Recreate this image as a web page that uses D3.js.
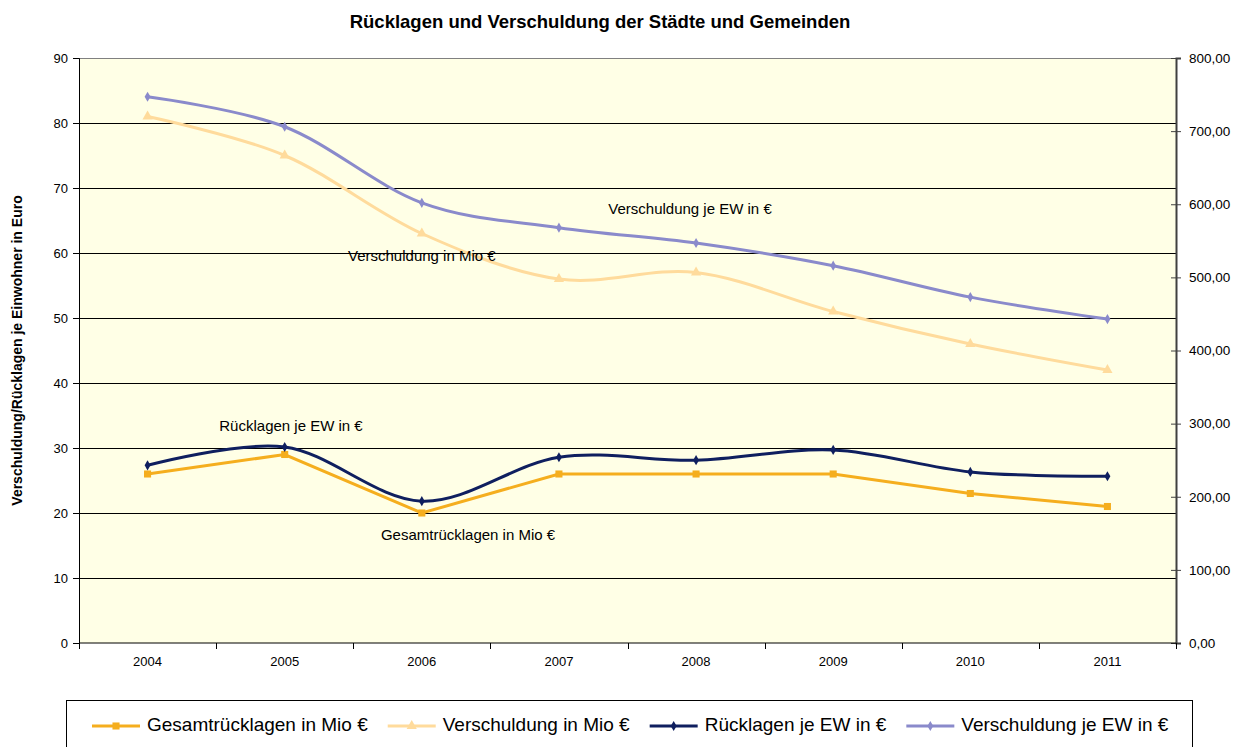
<!DOCTYPE html>
<html>
<head>
<meta charset="utf-8">
<script src="https://cdn.jsdelivr.net/npm/d3@7"></script>
<style>
	body { margin: 0; background: #fff; }
	text { font-family: "Liberation Sans", Arial, sans-serif; fill: #000; }
</style>
</head>
<body>
<svg id="chart"></svg>
<script>
const years = ["2004", "2005", "2006", "2007", "2008", "2009", "2010", "2011"];
const gesamtRuecklagen = [26, 29, 20, 26, 26, 26, 23, 21];
const verschuldungMio = [81, 75, 63, 56, 57, 51, 46, 42];
const ruecklagenEW = [243, 268, 194, 254, 250, 264, 234, 228];
const verschuldungEW = [747, 706, 602, 568, 547, 516, 473, 443];
const leftTicks = [0, 10, 20, 30, 40, 50, 60, 70, 80, 90];
const rightTicks = [0, 100, 200, 300, 400, 500, 600, 700, 800];

const width = 1235, height = 747;
const margin = { top: 58, right: 59, bottom: 104, left: 79 };
const plotW = width - margin.left - margin.right;
const plotH = height - margin.top - margin.bottom;

const svg = d3.select("#chart").attr("width", width).attr("height", height);

const x = d3.scaleBand().domain(years).range([0, plotW]);
const xc = i => x.step() * (i + 0.5);
const yL = d3.scaleLinear().domain([0, 90]).range([plotH, 0]);
const yR = d3.scaleLinear().domain([0, 800]).range([plotH, 0]);

const g = svg.append("g").attr("transform", `translate(${margin.left}, ${margin.top})`);

g.append("rect")
	.attr("width", plotW)
	.attr("height", plotH)
	.attr("fill", "#FFFFE6");

// gridlines
g.selectAll(".grid")
	.data(leftTicks.filter(d => d > 0 && d < 90))
	.enter()
	.append("line")
	.attr("x1", 0)
	.attr("x2", plotW)
	.attr("y1", d => Math.round(yL(d)) + 0.5)
	.attr("y2", d => Math.round(yL(d)) + 0.5)
	.attr("stroke", "#000")
	.attr("stroke-width", 1);

g.append("line")
	.attr("x1", 0).attr("x2", plotW)
	.attr("y1", 0.5).attr("y2", 0.5)
	.attr("stroke", "#808080");

// left axis
const leftAxis = g.append("g")
	.call(d3.axisLeft(yL).tickValues(leftTicks).tickSize(6).tickPadding(5));
leftAxis.select(".domain").attr("stroke", "#000");
leftAxis.selectAll("text").style("font-size", "13px").attr("fill", "#000");

// right axis
const rightAxis = g.append("g")
	.attr("transform", `translate(${plotW}, 0)`)
	.call(d3.axisRight(yR).tickValues(rightTicks).tickSize(5).tickPadding(8)
		.tickFormat(d => d3.format(".2f")(d).replace(".", ",")));
rightAxis.select(".domain").attr("stroke", "#404040").attr("stroke-width", 2);
rightAxis.selectAll(".tick line").attr("x1", -5).attr("stroke", "#404040");
rightAxis.selectAll("text").style("font-size", "13.5px").attr("fill", "#000");

// bottom axis
const bottom = g.append("g").attr("transform", `translate(0, ${plotH})`);
bottom.append("line").attr("x1", 0).attr("x2", plotW).attr("stroke", "#000");
bottom.selectAll(".xt")
	.data(d3.range(years.length + 1))
	.enter()
	.append("line")
	.attr("x1", i => Math.round(i * x.step()) + 0.5)
	.attr("x2", i => Math.round(i * x.step()) + 0.5)
	.attr("y1", 0).attr("y2", 6)
	.attr("stroke", "#000");
bottom.selectAll(".xl")
	.data(years)
	.enter()
	.append("text")
	.attr("x", (d, i) => xc(i))
	.attr("y", 23)
	.attr("text-anchor", "middle")
	.style("font-size", "13px")
	.text(d => d);

const series = [
	{ name: "Gesamtrücklagen in Mio €", values: gesamtRuecklagen, y: yL, color: "#F5AE1E", curve: d3.curveLinear, marker: "square" },
	{ name: "Verschuldung in Mio €", values: verschuldungMio, y: yL, color: "#FFDB9C", curve: d3.curveCardinal, marker: "triangle" },
	{ name: "Rücklagen je EW in €", values: ruecklagenEW, y: yR, color: "#0F1F5F", curve: d3.curveCardinal, marker: "diamond" },
	{ name: "Verschuldung je EW in €", values: verschuldungEW, y: yR, color: "#8A8ACB", curve: d3.curveCardinal, marker: "diamond" }
];

const symbolOf = m => m === "square" ? d3.symbolSquare : m === "triangle" ? d3.symbolTriangle : d3.symbolDiamond;
const sizeOf = m => m === "square" ? 50 : m === "triangle" ? 45 : 30;

series.forEach(s => {
	const line = d3.line()
		.x((d, i) => xc(i))
		.y(d => s.y(d))
		.curve(s.curve);
	g.append("path")
		.datum(s.values)
		.attr("d", line)
		.attr("fill", "none")
		.attr("stroke", s.color)
		.attr("stroke-width", 3);
	g.selectAll(null)
		.data(s.values)
		.enter()
		.append("path")
		.attr("transform", (d, i) => `translate(${xc(i)}, ${s.y(d)})`)
		.attr("d", d3.symbol().type(symbolOf(s.marker)).size(sizeOf(s.marker)))
		.attr("fill", s.color);
});

// annotations
const notes = [
	{ text: "Verschuldung je EW in €", i: 3.956, v: 66.6 },
	{ text: "Verschuldung in Mio €", i: 2.0, v: 59.4 },
	{ text: "Rücklagen je EW in €", i: 1.046, v: 33.2 },
	{ text: "Gesamtrücklagen in Mio €", i: 2.337, v: 16.5 }
];
g.selectAll(".note")
	.data(notes)
	.enter()
	.append("text")
	.attr("x", d => xc(d.i))
	.attr("y", d => yL(d.v))
	.attr("text-anchor", "middle")
	.attr("dominant-baseline", "middle")
	.style("font-size", "15px")
	.text(d => d.text);

// title
svg.append("text")
	.attr("x", 600)
	.attr("y", 28)
	.attr("text-anchor", "middle")
	.style("font-size", "18.5px")
	.style("font-weight", "bold")
	.text("Rücklagen und Verschuldung der Städte und Gemeinden");

svg.append("text")
	.attr("transform", `translate(22, ${margin.top + plotH / 2}) rotate(-90)`)
	.attr("text-anchor", "middle")
	.style("font-size", "14px")
	.style("font-weight", "bold")
	.text("Verschuldung/Rücklagen je Einwohner in Euro");

// legend
const legend = svg.append("g");
legend.append("rect")
	.attr("x", 66.5).attr("y", 700.5)
	.attr("width", 1126).attr("height", 70)
	.attr("fill", "#fff")
	.attr("stroke", "#000");

let lx = 92;
series.forEach(s => {
	const item = legend.append("g").attr("transform", `translate(${lx}, 726)`);
	item.append("line").attr("x1", 0).attr("x2", 48).attr("stroke", s.color).attr("stroke-width", 3);
	item.append("path")
		.attr("transform", "translate(24, 0)")
		.attr("d", d3.symbol().type(symbolOf(s.marker)).size(sizeOf(s.marker)))
		.attr("fill", s.color);
	const t = item.append("text")
		.attr("x", 55)
		.attr("dominant-baseline", "middle")
		.style("font-size", "19px")
		.text(s.name);
	lx += 55 + t.node().getComputedTextLength() + 20;
});
</script>
</body>
</html>
